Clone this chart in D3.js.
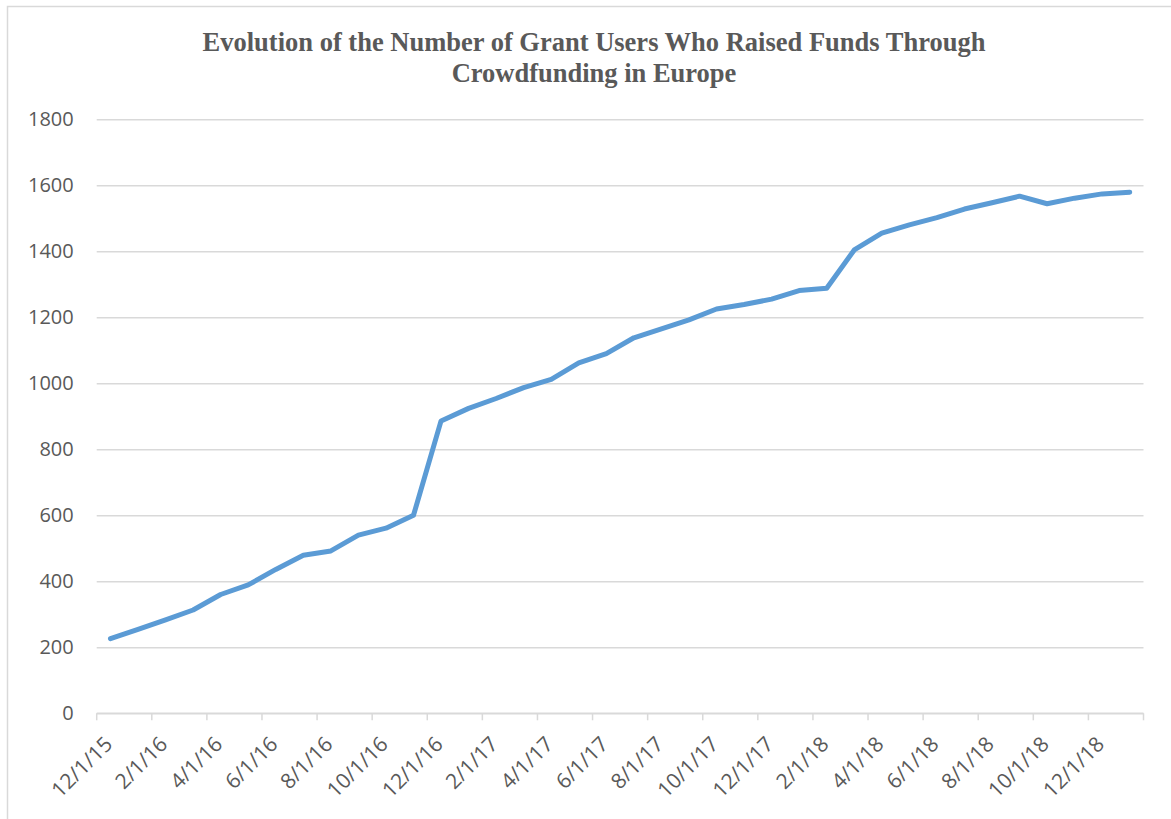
<!DOCTYPE html>
<html>
<head>
<meta charset="utf-8">
<script src="https://cdn.jsdelivr.net/npm/d3@7"></script>
<style>
  html, body { margin: 0; padding: 0; background: #fff; }
  svg { display: block; }
</style>
</head>
<body>
<svg id="chart" width="1171" height="819"></svg>
<script>
// Monthly observations, Dec 2015 – Jan 2019
const months = [
  "12/1/15", "1/1/16", "2/1/16", "3/1/16", "4/1/16", "5/1/16", "6/1/16", "7/1/16",
  "8/1/16", "9/1/16", "10/1/16", "11/1/16", "12/1/16", "1/1/17", "2/1/17", "3/1/17",
  "4/1/17", "5/1/17", "6/1/17", "7/1/17", "8/1/17", "9/1/17", "10/1/17", "11/1/17",
  "12/1/17", "1/1/18", "2/1/18", "3/1/18", "4/1/18", "5/1/18", "6/1/18", "7/1/18",
  "8/1/18", "9/1/18", "10/1/18", "11/1/18", "12/1/18", "1/1/19"
];
const grantUsers = [
  226, 254, 283, 313, 360, 389, 436, 479,
  492, 540, 561, 600, 886, 924, 954, 987,
  1012, 1062, 1090, 1138, 1165, 1192, 1225, 1239,
  1255, 1281, 1288, 1404, 1455, 1480, 1502, 1528,
  1547, 1567, 1544, 1561, 1574, 1579
];
const yTicks = [0, 200, 400, 600, 800, 1000, 1200, 1400, 1600, 1800];
const titleLines = [
  "Evolution of the Number of Grant Users Who Raised Funds Through",
  "Crowdfunding in Europe"
];

const svg = d3.select("#chart");
const plot = { left: 96.7, right: 1143.5, top: 119.3, bottom: 713.3 };
const textColor = "#595959";
const gridColor = "#d9d9d9";
const labelFont = "'Open Sans', 'Liberation Sans', sans-serif";

// Chart frame
svg.append("path")
  .attr("d", "M7.5,1000 V6.5 H1300")
  .attr("fill", "none")
  .attr("stroke", gridColor)
  .attr("stroke-width", 1.5);

const x = d3.scaleBand()
  .domain(months)
  .range([plot.left, plot.right])
  .paddingInner(0).paddingOuter(0);

const y = d3.scaleLinear()
  .domain([0, 1800])
  .range([plot.bottom, plot.top]);

// Horizontal gridlines with value labels
const yAxis = d3.axisLeft(y)
  .tickValues(yTicks)
  .tickSize(-(plot.right - plot.left))
  .tickPadding(23)
  .tickFormat(d3.format("d"));

const gy = svg.append("g")
  .attr("transform", `translate(${plot.left},0)`)
  .call(yAxis);
gy.select(".domain").remove();
gy.selectAll(".tick line")
  .attr("stroke", gridColor)
  .attr("stroke-width", 1.5);
gy.selectAll(".tick text")
  .attr("fill", textColor)
  .style("font-family", labelFont)
  .style("font-size", "20px");

// Category axis: ticks at every second category boundary
const boundaries = d3.range(0, months.length + 1, 2)
  .map(i => i < months.length ? x(months[i]) : plot.right);

const gx = svg.append("g");
gx.append("line")
  .attr("x1", plot.left).attr("x2", plot.right)
  .attr("y1", plot.bottom).attr("y2", plot.bottom)
  .attr("stroke", gridColor).attr("stroke-width", 1.5);
gx.selectAll("line.tick")
  .data(boundaries)
  .join("line")
  .attr("class", "tick")
  .attr("x1", d => d).attr("x2", d => d)
  .attr("y1", plot.bottom).attr("y2", plot.bottom + 7)
  .attr("stroke", gridColor).attr("stroke-width", 1.5);

const labelled = months.filter((m, i) => i % 2 === 0);
gx.selectAll("text.label")
  .data(labelled)
  .join("text")
  .attr("class", "label")
  .attr("transform", d => `translate(${x(d) + x.bandwidth() / 2 - 2},${plot.bottom + 27}) rotate(-45)`)
  .attr("text-anchor", "end")
  .attr("dy", "0.35em")
  .attr("fill", textColor)
  .style("font-family", labelFont)
  .style("font-size", "21px")
  .text(d => d);

// Data line
const line = d3.line()
  .x((d, i) => x(months[i]) + x.bandwidth() / 2)
  .y(d => y(d));

svg.append("path")
  .datum(grantUsers)
  .attr("d", line)
  .attr("fill", "none")
  .attr("stroke", "#5b9bd5")
  .attr("stroke-width", 5)
  .attr("stroke-linejoin", "round")
  .attr("stroke-linecap", "round");

// Title
svg.append("text")
  .attr("x", 594)
  .attr("y", 51)
  .attr("text-anchor", "middle")
  .attr("fill", textColor)
  .style("font-family", "'Liberation Serif', 'Times New Roman', serif")
  .style("font-weight", "bold")
  .style("font-size", "26.5px")
  .selectAll("tspan")
  .data(titleLines)
  .join("tspan")
  .attr("x", 594)
  .attr("dy", (d, i) => i === 0 ? 0 : 31)
  .text(d => d);
</script>
</body>
</html>
